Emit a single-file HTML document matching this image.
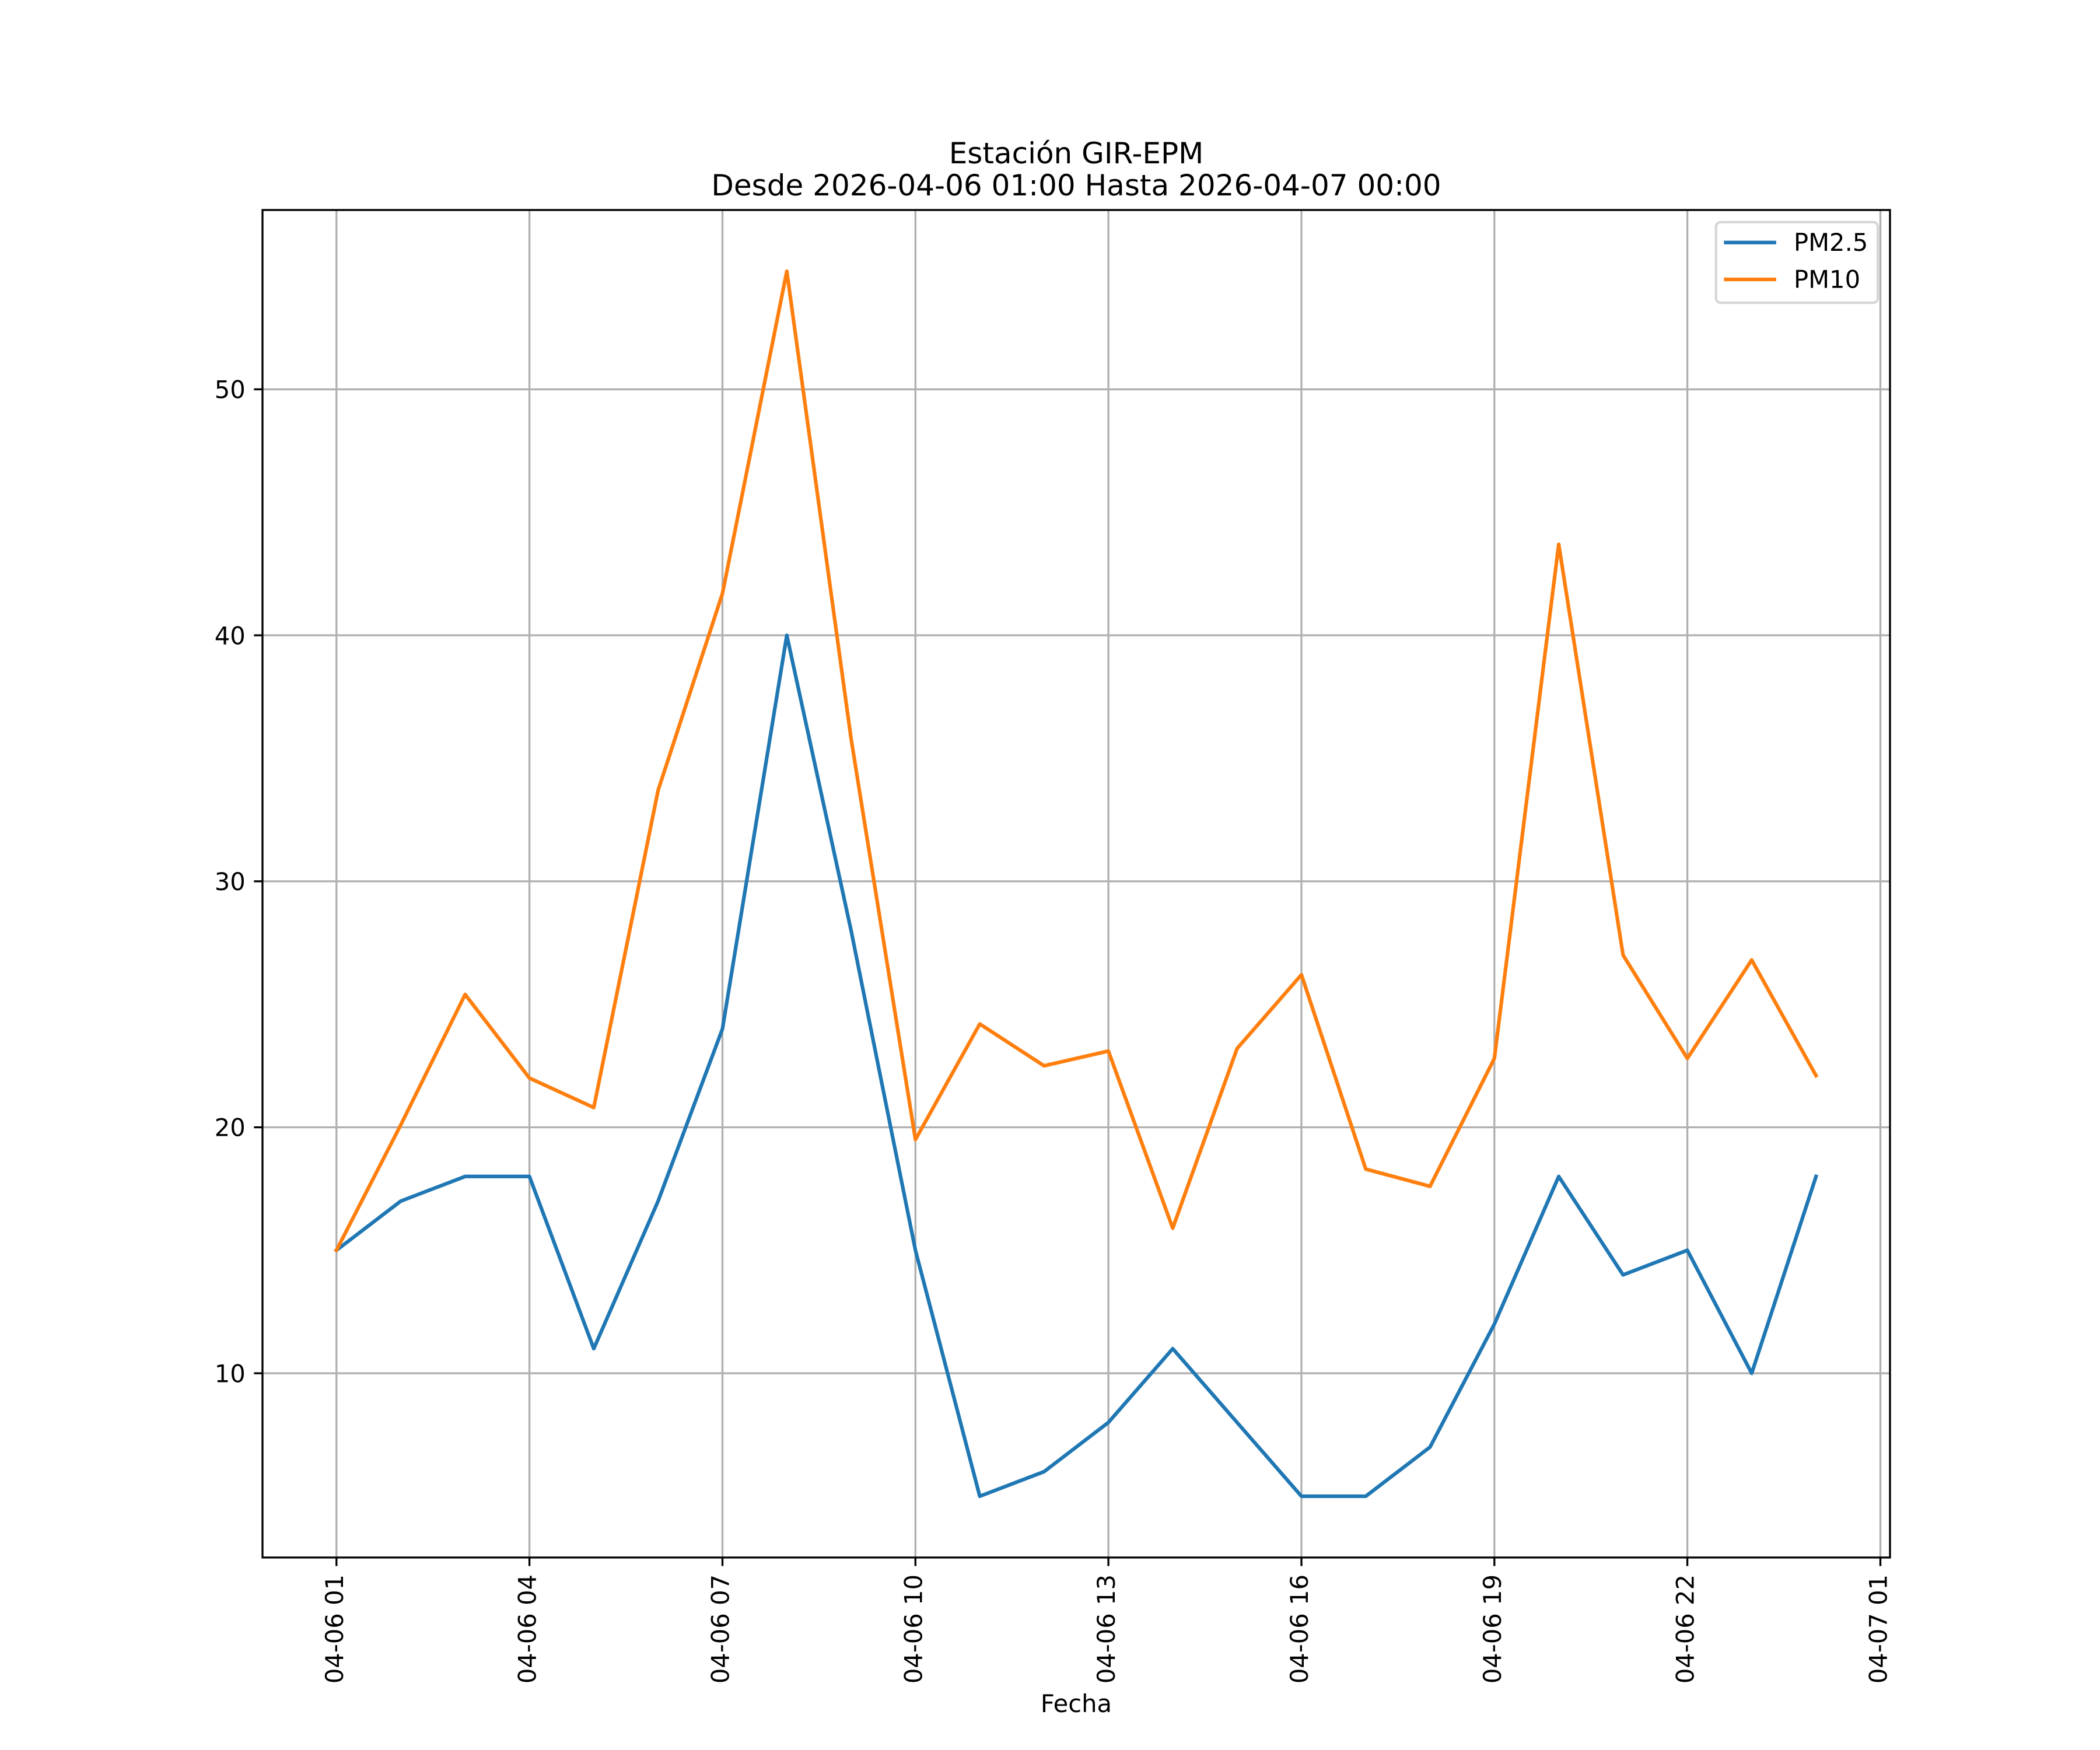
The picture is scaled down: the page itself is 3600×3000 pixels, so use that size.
<!DOCTYPE html>
<html>
<head>
<meta charset="utf-8">
<style>
html,body{margin:0;padding:0;background:#fff;}
svg{display:block;}
text{font-family:"DejaVu Sans","Liberation Sans",sans-serif;fill:#000;}
</style>
</head>
<body>
<svg xmlns="http://www.w3.org/2000/svg" width="3600" height="3000" viewBox="0 0 3600 3000">
<rect x="0" y="0" width="3600" height="3000" fill="#ffffff"/>
<rect x="450" y="360" width="2790" height="2310" fill="#ffffff"/>

<!-- grid -->
<g stroke="#b0b0b0" stroke-width="3.33" fill="none">
<line x1="576.8" y1="360" x2="576.8" y2="2670"/>
<line x1="907.6" y1="360" x2="907.6" y2="2670"/>
<line x1="1238.5" y1="360" x2="1238.5" y2="2670"/>
<line x1="1569.3" y1="360" x2="1569.3" y2="2670"/>
<line x1="1900.1" y1="360" x2="1900.1" y2="2670"/>
<line x1="2231.0" y1="360" x2="2231.0" y2="2670"/>
<line x1="2561.8" y1="360" x2="2561.8" y2="2670"/>
<line x1="2892.6" y1="360" x2="2892.6" y2="2670"/>
<line x1="3223.5" y1="360" x2="3223.5" y2="2670"/>
<line x1="450" y1="667.4" x2="3240" y2="667.4"/>
<line x1="450" y1="1089.1" x2="3240" y2="1089.1"/>
<line x1="450" y1="1510.8" x2="3240" y2="1510.8"/>
<line x1="450" y1="1932.5" x2="3240" y2="1932.5"/>
<line x1="450" y1="2354.2" x2="3240" y2="2354.2"/>
</g>

<!-- PM2.5 -->
<polyline fill="none" stroke="#1f77b4" stroke-width="6.25" stroke-linejoin="round" stroke-linecap="square"
points="576.8,2143.3 687.1,2059.0 797.4,2016.8 907.6,2016.8 1017.9,2312.0 1128.2,2059.0 1238.5,1763.8 1348.8,1089.1 1459.0,1595.1 1569.3,2143.3 1679.6,2565.0 1789.9,2522.8 1900.1,2438.5 2010.4,2312.0 2120.7,2438.5 2231.0,2565.0 2341.3,2565.0 2451.5,2480.7 2561.8,2269.8 2672.1,2016.8 2782.4,2185.5 2892.6,2143.3 3002.9,2354.2 3113.2,2016.8"/>

<!-- PM10 -->
<polyline fill="none" stroke="#ff7f0e" stroke-width="6.25" stroke-linejoin="round" stroke-linecap="square"
points="576.8,2143.3 687.1,1928.3 797.4,1704.8 907.6,1848.1 1017.9,1898.7 1128.2,1354.8 1238.5,1017.4 1348.8,465.0 1459.0,1266.2 1569.3,1953.6 1679.6,1755.4 1789.9,1827.1 1900.1,1801.8 2010.4,2105.4 2120.7,1797.5 2231.0,1671.0 2341.3,2004.2 2451.5,2033.7 2561.8,1814.4 2672.1,933.1 2782.4,1637.3 2892.6,1814.4 3002.9,1645.7 3113.2,1843.9"/>

<!-- spines -->
<rect x="450" y="360" width="2790" height="2310" fill="none" stroke="#000" stroke-width="3.33" stroke-linejoin="miter"/>

<!-- ticks -->
<g stroke="#000" stroke-width="3.33">
<line x1="576.8" y1="2670" x2="576.8" y2="2684.6"/>
<line x1="907.6" y1="2670" x2="907.6" y2="2684.6"/>
<line x1="1238.5" y1="2670" x2="1238.5" y2="2684.6"/>
<line x1="1569.3" y1="2670" x2="1569.3" y2="2684.6"/>
<line x1="1900.1" y1="2670" x2="1900.1" y2="2684.6"/>
<line x1="2231.0" y1="2670" x2="2231.0" y2="2684.6"/>
<line x1="2561.8" y1="2670" x2="2561.8" y2="2684.6"/>
<line x1="2892.6" y1="2670" x2="2892.6" y2="2684.6"/>
<line x1="3223.5" y1="2670" x2="3223.5" y2="2684.6"/>
<line x1="435.4" y1="667.4" x2="450" y2="667.4"/>
<line x1="435.4" y1="1089.1" x2="450" y2="1089.1"/>
<line x1="435.4" y1="1510.8" x2="450" y2="1510.8"/>
<line x1="435.4" y1="1932.5" x2="450" y2="1932.5"/>
<line x1="435.4" y1="2354.2" x2="450" y2="2354.2"/>
</g>

<!-- y tick labels -->
<g font-size="41.67" text-anchor="end">
<text x="420.8" y="682.6">50</text>
<text x="420.8" y="1104.3">40</text>
<text x="420.8" y="1526.0">30</text>
<text x="420.8" y="1947.7">20</text>
<text x="420.8" y="2369.4">10</text>
</g>

<!-- x tick labels (rotated) -->
<g font-size="41.67" text-anchor="end">
<text transform="translate(587.8,2699) rotate(-90)">04-06 01</text>
<text transform="translate(918.6,2699) rotate(-90)">04-06 04</text>
<text transform="translate(1249.5,2699) rotate(-90)">04-06 07</text>
<text transform="translate(1580.3,2699) rotate(-90)">04-06 10</text>
<text transform="translate(1911.1,2699) rotate(-90)">04-06 13</text>
<text transform="translate(2242.0,2699) rotate(-90)">04-06 16</text>
<text transform="translate(2572.8,2699) rotate(-90)">04-06 19</text>
<text transform="translate(2903.6,2699) rotate(-90)">04-06 22</text>
<text transform="translate(3234.5,2699) rotate(-90)">04-07 01</text>
</g>

<!-- x label -->
<text x="1845" y="2935" font-size="41.67" text-anchor="middle">Fecha</text>

<!-- title -->
<text x="1845" y="280" font-size="50" text-anchor="middle">Estación GIR-EPM</text>
<text x="1845" y="335" font-size="50" text-anchor="middle">Desde 2026-04-06 01:00 Hasta 2026-04-07 00:00</text>

<!-- legend -->
<rect x="2941.7" y="380.8" width="277.5" height="138.2" rx="8" ry="8" fill="#ffffff" fill-opacity="0.8" stroke="#d6d6d6" stroke-width="4.17"/>
<line x1="2958.4" y1="415.7" x2="3041.7" y2="415.7" stroke="#1f77b4" stroke-width="6.25" stroke-linecap="square"/>
<line x1="2958.4" y1="479" x2="3041.7" y2="479" stroke="#ff7f0e" stroke-width="6.25" stroke-linecap="square"/>
<text x="3075" y="430" font-size="41.67">PM2.5</text>
<text x="3075" y="493.3" font-size="41.67">PM10</text>
</svg>
</body>
</html>
